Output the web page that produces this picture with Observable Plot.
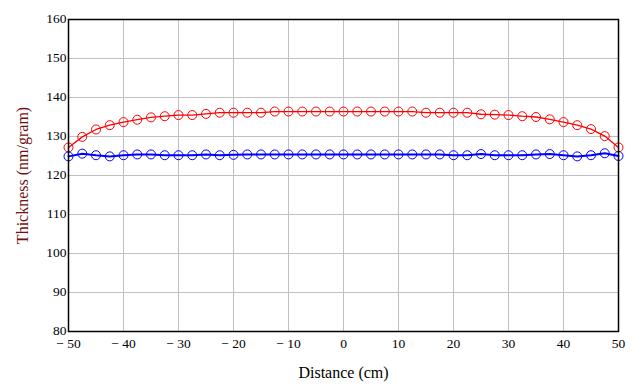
<!DOCTYPE html>
<html>
<head>
<meta charset="utf-8">
<script src="https://cdn.jsdelivr.net/npm/d3@7"></script>
<script src="https://cdn.jsdelivr.net/npm/@observablehq/plot@0.6"></script>
<style>
  html, body { margin: 0; padding: 0; background: #fff; }
  #chart svg { display: block; }
  #chart svg text, #chart svg g { font-family: "Liberation Serif", serif !important; font-variant: normal !important; }
</style>
</head>
<body>
<div id="chart"></div>
<script>
const distance = [-50, -47.5, -45, -42.5, -40, -37.5, -35, -32.5, -30, -27.5, -25, -22.5, -20, -17.5, -15, -12.5, -10, -7.5, -5, -2.5, 0, 2.5, 5, 7.5, 10, 12.5, 15, 17.5, 20, 22.5, 25, 27.5, 30, 32.5, 35, 37.5, 40, 42.5, 45, 47.5, 50];
const redSeries = [127.2, 129.9, 131.8, 132.9, 133.7, 134.3, 134.9, 135.2, 135.5, 135.5, 135.8, 136.1, 136.1, 136.1, 136.1, 136.4, 136.4, 136.4, 136.4, 136.4, 136.4, 136.4, 136.4, 136.4, 136.4, 136.4, 136.1, 136.1, 136.1, 136.1, 135.7, 135.6, 135.5, 135.2, 135.0, 134.4, 133.7, 132.9, 131.9, 130.1, 127.2];
const blueSeries = [124.9, 125.6, 125.2, 124.9, 125.2, 125.4, 125.4, 125.2, 125.2, 125.2, 125.4, 125.2, 125.3, 125.4, 125.4, 125.4, 125.4, 125.4, 125.4, 125.4, 125.4, 125.4, 125.4, 125.4, 125.4, 125.4, 125.4, 125.4, 125.2, 125.2, 125.5, 125.2, 125.2, 125.2, 125.4, 125.5, 125.2, 124.9, 125.2, 125.7, 125.0];
const xTicks = [-50, -40, -30, -20, -10, 0, 10, 20, 30, 40, 50];
const yTicks = [80, 90, 100, 110, 120, 130, 140, 150, 160];
const xLabel = "Distance (cm)";
const yLabel = "Thickness (nm/gram)";

const red = distance.map((d, i) => ({x: d, y: redSeries[i]}));
const blue = distance.map((d, i) => ({x: d, y: blueSeries[i]}));
const serif = "Liberation Serif, serif";

const chart = Plot.plot({
  width: 641,
  height: 389,
  marginLeft: 68,
  marginRight: 23,
  marginTop: 19,
  marginBottom: 58,
  style: {fontFamily: serif, fontSize: "13px", color: "#000", background: "#fff"},
  x: {domain: [-50, 50], ticks: xTicks, label: null},
  y: {domain: [80, 160], ticks: yTicks, label: null},
  marks: [
    Plot.gridX(xTicks, {stroke: "#c0c0c0", strokeOpacity: 1}),
    Plot.gridY(yTicks, {stroke: "#c0c0c0", strokeOpacity: 1}),
    Plot.axisX(xTicks, {tickSize: 0, tickPadding: 7, fontSize: 13.5, fontFamily: serif, fontVariant: "normal", fill: "#000", label: null,
      tickFormat: d => d < 0 ? "\u2212 " + Math.abs(d) : String(d)}),
    Plot.axisY(yTicks, {tickSize: 0, tickPadding: 2, dy: -1, fontSize: 13.5, fontFamily: serif, fontVariant: "normal", fill: "#000", label: null}),
    Plot.line(red, {x: "x", y: "y", stroke: "#ff0000", strokeWidth: 1.3}),
    Plot.line(blue, {x: "x", y: "y", stroke: "#0000ff", strokeWidth: 2}),
    Plot.dot(red, {x: "x", y: "y", r: 4.5, stroke: "#ff0000", strokeWidth: 1, fill: "none"}),
    Plot.dot(blue, {x: "x", y: "y", r: 4.5, stroke: "#0000ff", strokeWidth: 1, fill: "none"}),
    Plot.frame({stroke: "#000", strokeWidth: 1.5}),
    Plot.text([xLabel], {frameAnchor: "bottom", dy: 46, text: d => d, fontSize: 16, fontFamily: serif, fill: "#000", textAnchor: "middle"}),
    Plot.text([yLabel], {frameAnchor: "left", dx: -46, rotate: -90, text: d => d, fontSize: 16, fontFamily: serif, fill: "#701010", textAnchor: "middle"})
  ]
});
document.getElementById("chart").appendChild(chart);
</script>
</body>
</html>
